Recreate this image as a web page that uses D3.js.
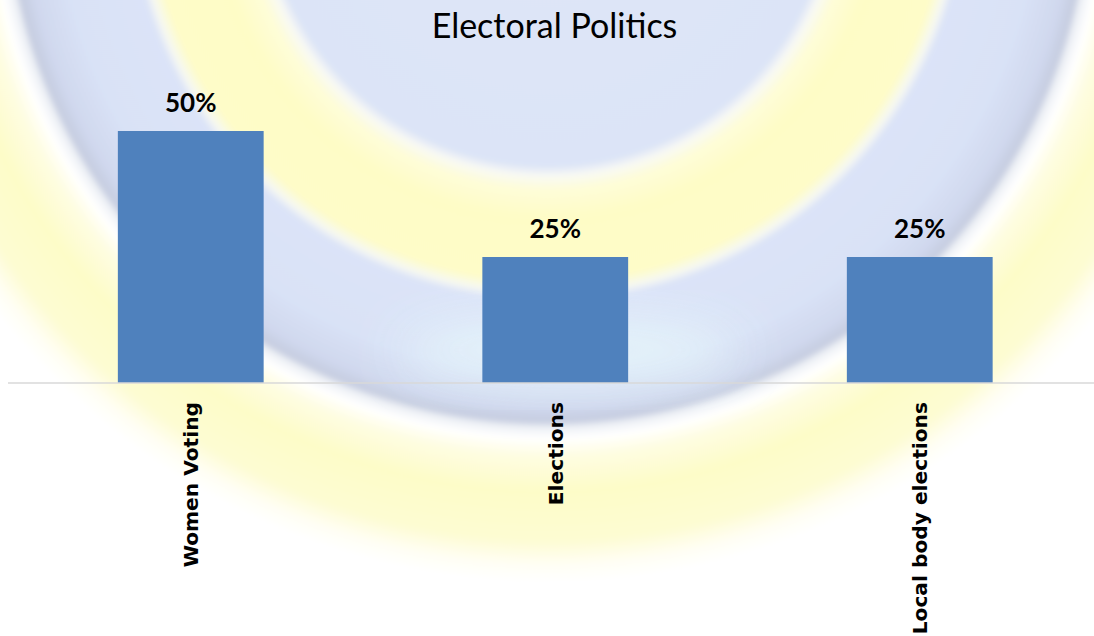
<!DOCTYPE html>
<html>
<head>
<meta charset="utf-8">
<script src="https://cdn.jsdelivr.net/npm/d3@7"></script>
<style>
  html, body { margin: 0; padding: 0; background: #ffffff; }
  svg { display: block; }
</style>
</head>
<body>
<svg id="chart" width="1094" height="636"></svg>
<script>
// Chart data
const categories = ["Women Voting", "Elections", "Local body elections"];
const values = [0.50, 0.25, 0.25];
const chartTitle = "Electoral Politics";

const width = 1094, height = 636;
const svg = d3.select("#chart");

// ---- Decorative backdrop: concentric rings behind the plot ----
const defs = svg.append("defs");
const ringGrad = defs.append("radialGradient")
  .attr("id", "rings")
  .attr("gradientUnits", "userSpaceOnUse")
  .attr("cx", 548).attr("cy", -118).attr("r", 700);
[
  [0.000, "#dfe6f8"], [0.405, "#dce4f7"], [0.420, "#f8f9f4"], [0.440, "#fefdd8"],
  [0.480, "#fefcc6"], [0.570, "#fefcc8"], [0.588, "#f6f8f2"], [0.600, "#dbe3f8"],
  [0.700, "#d9e2f6"], [0.750, "#d0d8ee"], [0.770, "#c6cde0"], [0.780, "#eef1f6"],
  [0.795, "#ffffff"], [0.820, "#fefde2"], [0.870, "#fdfcc8"], [0.940, "#fdfcd2"],
  [0.975, "#fffef4"], [1.000, "#ffffff"]
].forEach(([o, c]) => ringGrad.append("stop").attr("offset", o).attr("stop-color", c));

const soft = defs.append("filter").attr("id", "soft")
  .attr("x", "-20%").attr("y", "-20%").attr("width", "140%").attr("height", "140%");
soft.append("feGaussianBlur").attr("stdDeviation", 2.5);

const glow = defs.append("filter").attr("id", "glow")
  .attr("x", "-50%").attr("y", "-50%").attr("width", "200%").attr("height", "200%");
glow.append("feGaussianBlur").attr("stdDeviation", 25);

const backdrop = svg.append("g").attr("class", "backdrop");
backdrop.append("circle")
  .attr("cx", 548).attr("cy", -118).attr("r", 700)
  .attr("fill", "url(#rings)")
  .attr("filter", "url(#soft)");
// bright sheen along the lower part of the blue ring
backdrop.append("ellipse")
  .attr("cx", 570).attr("cy", 350).attr("rx", 170).attr("ry", 30)
  .attr("fill", "#e6f6fb").attr("opacity", 0.9)
  .attr("filter", "url(#glow)");

// ---- Scales ----
const x = d3.scaleBand()
  .domain(categories)
  .range([8.5, 1102])
  .paddingInner(0.6)
  .paddingOuter(0.3);

const y = d3.scaleLinear()
  .domain([0, 0.6])
  .range([383, 80.6]);

const fmt = d3.format(".0%");

// ---- Title ----
svg.append("text")
  .attr("x", 554.5).attr("y", 38)
  .attr("text-anchor", "middle")
  .attr("font-family", "Lato, 'Open Sans', sans-serif")
  .attr("font-size", 34)
  .attr("fill", "#000")
  .text(chartTitle);

// ---- Bars ----
svg.append("g").selectAll("rect")
  .data(values)
  .join("rect")
  .attr("x", (d, i) => x(categories[i]))
  .attr("y", d => y(d))
  .attr("width", x.bandwidth())
  .attr("height", d => y(0) - y(d))
  .attr("fill", "#4f81bd");

// ---- Value labels ----
svg.append("g").selectAll("text")
  .data(values)
  .join("text")
  .attr("x", (d, i) => x(categories[i]) + x.bandwidth() / 2)
  .attr("y", d => y(d) - 19)
  .attr("text-anchor", "middle")
  .attr("font-family", "Lato, 'Open Sans', sans-serif")
  .attr("font-weight", "bold")
  .attr("font-size", 26)
  .attr("fill", "#000")
  .text(d => fmt(d));

// ---- Category axis (baseline + rotated labels) ----
const xAxis = d3.axisBottom(x).tickSize(0).tickPadding(0);
const axisG = svg.append("g")
  .attr("transform", `translate(0,${y(0)})`)
  .call(xAxis);
axisG.select(".domain")
  .attr("d", "M8,0H1094")
  .attr("stroke", "#d9d9d9")
  .attr("stroke-width", 1.5);
axisG.selectAll(".tick text")
  .attr("transform", "translate(0,19) rotate(-90)")
  .attr("x", 0).attr("y", 0)
  .attr("dy", "0.37em")
  .attr("text-anchor", "end")
  .attr("font-family", "'DejaVu Sans', Verdana, sans-serif")
  .attr("font-weight", "bold")
  .attr("font-size", 20.2)
  .attr("fill", "#000");
</script>
</body>
</html>
